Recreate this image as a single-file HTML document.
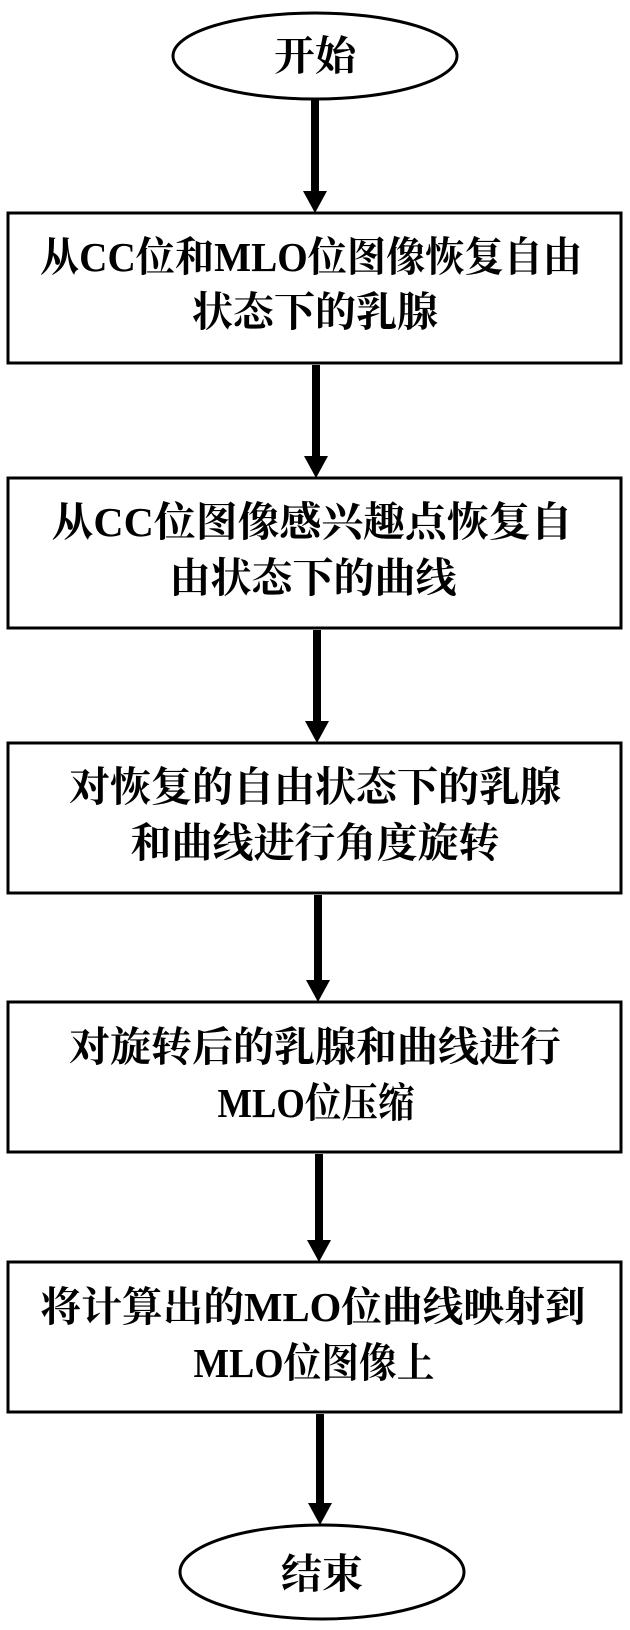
<!DOCTYPE html>
<html><head><meta charset="utf-8"><style>
html,body{margin:0;padding:0;background:#fff;}
svg{display:block;}
text{font-family:"Liberation Serif","Noto Serif CJK SC",serif;font-weight:bold;font-size:41px;fill:#000;}
</style></head><body>
<svg width="630" height="1630" viewBox="0 0 630 1630" xmlns="http://www.w3.org/2000/svg">
<g fill="none" stroke="#000" stroke-width="3">
<ellipse cx="315" cy="56" rx="142" ry="43"/>
<rect x="8" y="213" width="613" height="150"/>
<rect x="8" y="478" width="613" height="150"/>
<rect x="8" y="743" width="613" height="150"/>
<rect x="8" y="1002" width="613" height="150"/>
<rect x="8" y="1262" width="613" height="150"/>
<ellipse cx="322" cy="1572" rx="142" ry="47"/>
</g>
<g stroke="#000" stroke-width="8">
<line x1="315" y1="100" x2="315" y2="195"/>
<line x1="316" y1="365" x2="316" y2="460"/>
<line x1="317" y1="630" x2="317" y2="725"/>
<line x1="318" y1="895" x2="318" y2="984"/>
<line x1="319" y1="1154" x2="319" y2="1244"/>
<line x1="320" y1="1414" x2="320" y2="1507"/>
</g>
<g fill="#000">
<polygon points="303,191 327,191 315,213"/>
<polygon points="304,456 328,456 316,478"/>
<polygon points="305,721 329,721 317,743"/>
<polygon points="306,980 330,980 318,1002"/>
<polygon points="307,1240 331,1240 319,1262"/>
<polygon points="308,1503 332,1503 320,1525"/>
</g>
<g text-anchor="middle" dominant-baseline="central">
<text x="315" y="56">开始</text>
<text x="311" y="257" textLength="542" lengthAdjust="spacingAndGlyphs">从CC位和MLO位图像恢复自由</text>
<text x="315" y="312">状态下的乳腺</text>
<text x="312" y="522" textLength="521" lengthAdjust="spacingAndGlyphs">从CC位图像感兴趣点恢复自</text>
<text x="313" y="578">由状态下的曲线</text>
<text x="315" y="787">对恢复的自由状态下的乳腺</text>
<text x="315" y="843">和曲线进行角度旋转</text>
<text x="315" y="1047">对旋转后的乳腺和曲线进行</text>
<text x="316" y="1103" textLength="197" lengthAdjust="spacingAndGlyphs">MLO位压缩</text>
<text x="313" y="1307" textLength="545" lengthAdjust="spacingAndGlyphs">将计算出的MLO位曲线映射到</text>
<text x="314" y="1363" textLength="241" lengthAdjust="spacingAndGlyphs">MLO位图像上</text>
<text x="322" y="1574">结束</text>
</g>
</svg>
</body></html>
